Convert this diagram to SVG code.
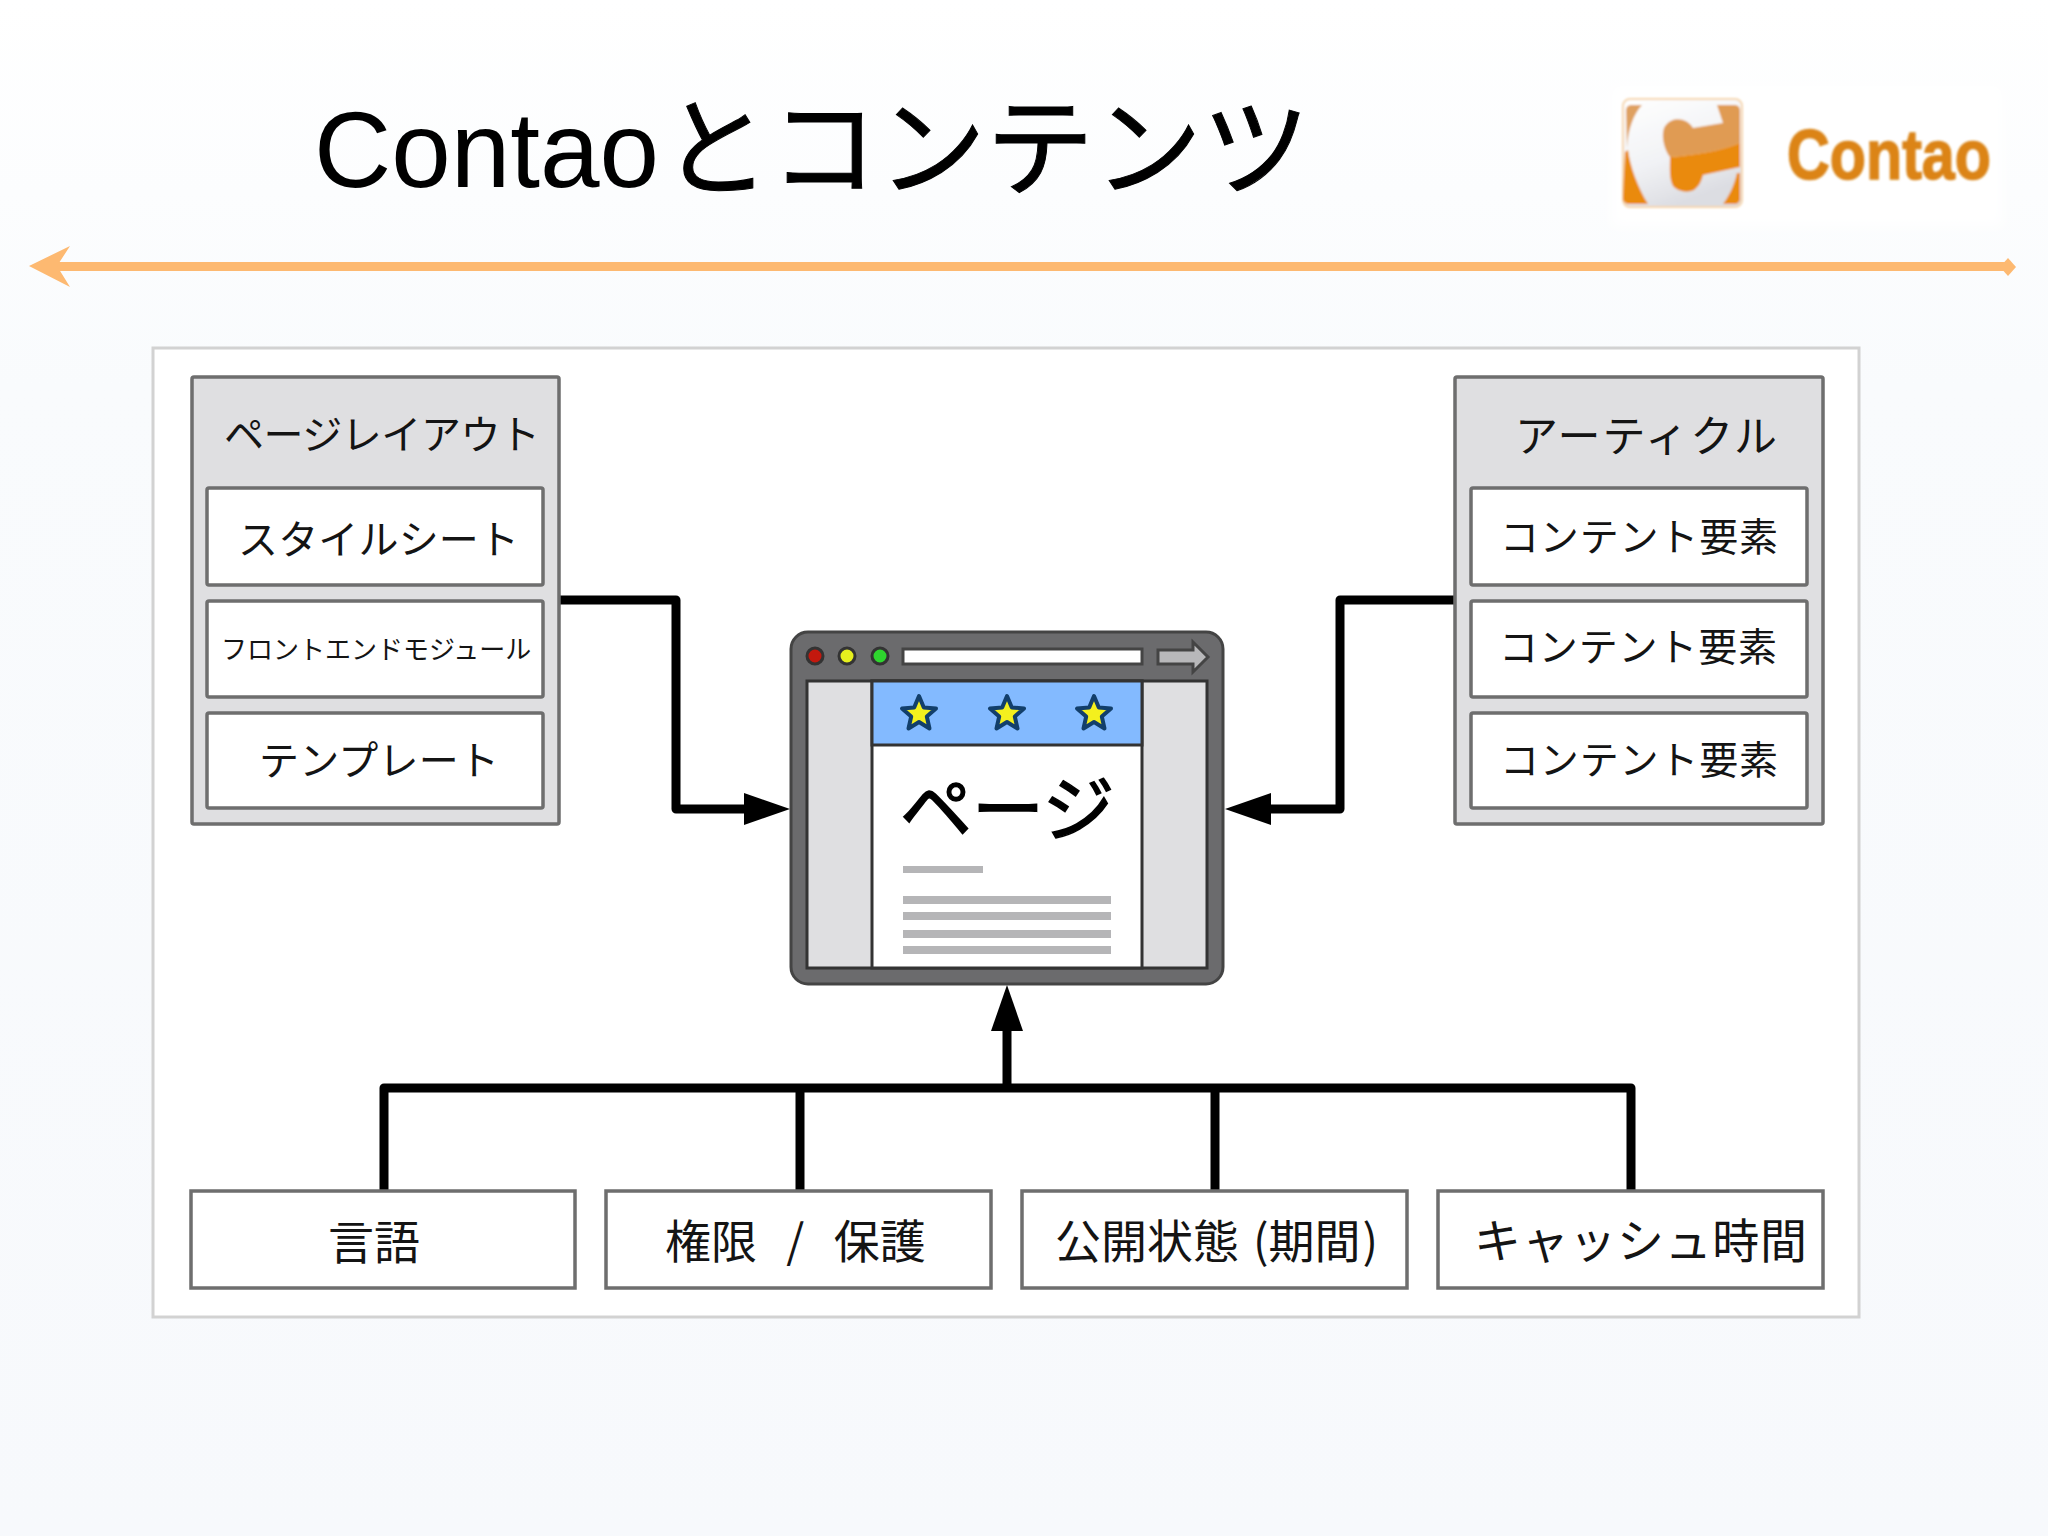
<svg xmlns="http://www.w3.org/2000/svg" width="2048" height="1536" viewBox="0 0 2048 1536">
<defs>
<linearGradient id="bg" x1="0" y1="0" x2="0" y2="1"><stop offset="0" stop-color="#ffffff"/><stop offset="0.25" stop-color="#f9fbfd"/><stop offset="1" stop-color="#f7f9fc"/></linearGradient>
<linearGradient id="iconbg" x1="0" y1="0" x2="0.4" y2="1"><stop offset="0" stop-color="#ffffff"/><stop offset="0.6" stop-color="#f1f2f5"/><stop offset="1" stop-color="#dcdde2"/></linearGradient>
<filter id="soft" x="-10%" y="-10%" width="120%" height="120%"><feGaussianBlur stdDeviation="1"/></filter>
<filter id="patch" x="-10%" y="-20%" width="120%" height="140%"><feGaussianBlur stdDeviation="6"/></filter>
<marker id="head" viewBox="0 0 46 32" refX="0" refY="16" markerWidth="46" markerHeight="32" markerUnits="userSpaceOnUse" orient="auto"><path d="M0 0L46 16L0 32Z" fill="#000"/></marker>
<polygon id="star" points="0,-18 4.8,-6.5 17,-5.5 7.8,2.5 10.5,14.5 0,8 -10.5,14.5 -7.8,2.5 -17,-5.5 -4.8,-6.5" fill="#f4f01e" stroke="#123f6b" stroke-width="4" stroke-linejoin="round"/>
</defs>
<style>
text{font-family:"Noto Sans CJK JP","Noto Sans",sans-serif;fill:#141414}
.group{fill:#dfdfe1;stroke:#6e6e6e;stroke-width:3.5}
.box{fill:#fff;stroke:#6e6e6e;stroke-width:3.5}
.lbl{font-size:40px}
.lbl2{font-size:39px}
.big{font-size:46px}
.conn{fill:none;stroke:#000;stroke-width:9;stroke-linejoin:round}
.bar{fill:#b5b5b7}
</style>
<rect width="2048" height="1536" fill="url(#bg)"/>
<g id="title">
<text x="314" y="187" font-size="107" style="font-family:'Liberation Sans','Noto Sans CJK JP',sans-serif;fill:#000">Contao<tspan dx="3" font-size="108" stroke="#000" stroke-width="1">とコンテンツ</tspan></text>
</g>
<g id="logo">
<rect x="1612" y="86" width="390" height="140" fill="#fff" filter="url(#patch)"/>
<g filter="url(#soft)">
<rect x="1623" y="99" width="119" height="108" rx="7" fill="url(#iconbg)" stroke="#f6d6ae" stroke-width="2"/>
<path d="M1627 148C1628 128 1634 114 1642 105H1632C1628 105 1626 107 1626 111Z" fill="#dfa061"/>
<path d="M1625 152L1628 150C1630 166 1638 188 1648 204H1630C1626 204 1623 202 1623 198Z" fill="#ea8a0c"/>
<path d="M1670 157C1662 146 1661 130 1666 125C1672 117 1686 117 1693 128L1723 123L1717 105H1734C1738 105 1740 107 1740 111V143C1720 151 1695 155 1670 157Z" fill="#e09b52"/>
<path d="M1670 157C1695 155 1720 151 1740 143V167L1703 175C1701 183 1698 187 1694 190C1686 194 1676 190 1673 186C1669 178 1670 168 1670 157Z" fill="#ea8a0c"/>
<path d="M1737 173C1734 186 1729 196 1723 204H1734C1738 204 1740 202 1740 198V173Z" fill="#ea8a0c"/>
<text x="1787" y="179" font-size="71" font-weight="700" textLength="204" lengthAdjust="spacingAndGlyphs" stroke="#d98315" stroke-width="1.5" style="font-family:'Liberation Sans',sans-serif;fill:#dc8412">Contao</text>
</g>
</g>
<g id="rule">
<rect x="54" y="262" width="1954" height="9" fill="#fdb971"/>
<polygon points="29,266 70,246 57,266 70,287" fill="#fdb971"/>
<polygon points="2016,267 2008,258 2000,267 2008,276" fill="#fdb971"/>
</g>
<rect id="panel" x="153" y="348" width="1706" height="969" fill="#fff" stroke="#d2d2d2" stroke-width="3"/>
<g id="connectors">
<path class="conn" d="M559 600H676V809H744" marker-end="url(#head)"/>
<path class="conn" d="M1455 600H1340V809H1271" marker-end="url(#head)"/>
<path class="conn" d="M384 1190V1088H1631V1190M800 1088V1190M1215 1088V1190"/>
<path class="conn" d="M1007 1088V1031" marker-end="url(#head)"/>
</g>
<g id="page-layout">
<rect class="group" x="192" y="377" width="367" height="447" rx="2"/>
<text class="lbl" x="224" y="449" textLength="316">ページレイアウト</text>
</g>
<g id="stylesheet"><rect class="box" x="207" y="488" width="336" height="97" rx="2"/><text class="lbl" x="238" y="554" textLength="281">スタイルシート</text></g>
<g id="frontend-module"><rect class="box" x="207" y="601" width="336" height="96" rx="2"/><text x="221" y="659" font-size="26">フロントエンドモジュール</text></g>
<g id="template"><rect class="box" x="207" y="713" width="336" height="95" rx="2"/><text class="lbl" x="259" y="775" textLength="240">テンプレート</text></g>
<g id="article">
<rect class="group" x="1455" y="377" width="368" height="447" rx="2"/>
<text x="1515" y="452" font-size="43" textLength="262">アーティクル</text>
</g>
<g id="content-1"><rect class="box" x="1471" y="488" width="336" height="97" rx="2"/><text class="lbl2" x="1500" y="551" textLength="278">コンテント要素</text></g>
<g id="content-2"><rect class="box" x="1471" y="601" width="336" height="96" rx="2"/><text class="lbl2" x="1499" y="661" textLength="278">コンテント要素</text></g>
<g id="content-3"><rect class="box" x="1471" y="713" width="336" height="95" rx="2"/><text class="lbl2" x="1500" y="774" textLength="278">コンテント要素</text></g>
<g id="page">
<rect x="791" y="632" width="432" height="352" rx="17" fill="#6b6b6d" stroke="#444" stroke-width="3"/>
<rect x="807" y="681" width="400" height="287" fill="#dfdfe1" stroke="#333" stroke-width="3"/>
<rect x="872" y="681" width="270" height="287" fill="#fff" stroke="#333" stroke-width="3"/>
<rect x="872" y="681" width="270" height="64" fill="#83baff" stroke="#333" stroke-width="3"/>
<use href="#star" x="919" y="714"/><use href="#star" x="1007" y="714"/><use href="#star" x="1094" y="714"/>
<circle cx="815" cy="656" r="8" fill="#c3180e" stroke="#333" stroke-width="3"/>
<circle cx="847" cy="656" r="8" fill="#e6f01e" stroke="#333" stroke-width="3"/>
<circle cx="880" cy="656" r="8" fill="#2ed62e" stroke="#333" stroke-width="3"/>
<rect x="903" y="649" width="239" height="15" fill="#fff" stroke="#444" stroke-width="3"/>
<path d="M1158 650H1193V642L1208 657L1193 672V664H1158Z" fill="#b8b8ba" stroke="#444" stroke-width="3"/>
<text x="900" y="835" font-size="72" stroke="#000" stroke-width="1.5" style="fill:#000">ページ</text>
<rect class="bar" x="903" y="866" width="80" height="7"/>
<rect class="bar" x="903" y="896" width="208" height="8"/>
<rect class="bar" x="903" y="912" width="208" height="8"/>
<rect class="bar" x="903" y="930" width="208" height="8"/>
<rect class="bar" x="903" y="946" width="208" height="8"/>
</g>
<g id="language"><rect class="box" x="191" y="1191" width="384" height="97"/><text class="big" x="328" y="1259">言語</text></g>
<g id="permission"><rect class="box" x="606" y="1191" width="385" height="97"/><text class="big" x="665" y="1258" word-spacing="19">権限 / 保護</text></g>
<g id="publish"><rect class="box" x="1022" y="1191" width="385" height="97"/><text class="big" x="1055" y="1258">公開状態<tspan dx="14">(</tspan>期間<tspan dx="2">)</tspan></text></g>
<g id="cache"><rect class="box" x="1438" y="1191" width="385" height="97"/><text x="1474" y="1258" font-size="47" textLength="333">キャッシュ時間</text></g>
</svg>
